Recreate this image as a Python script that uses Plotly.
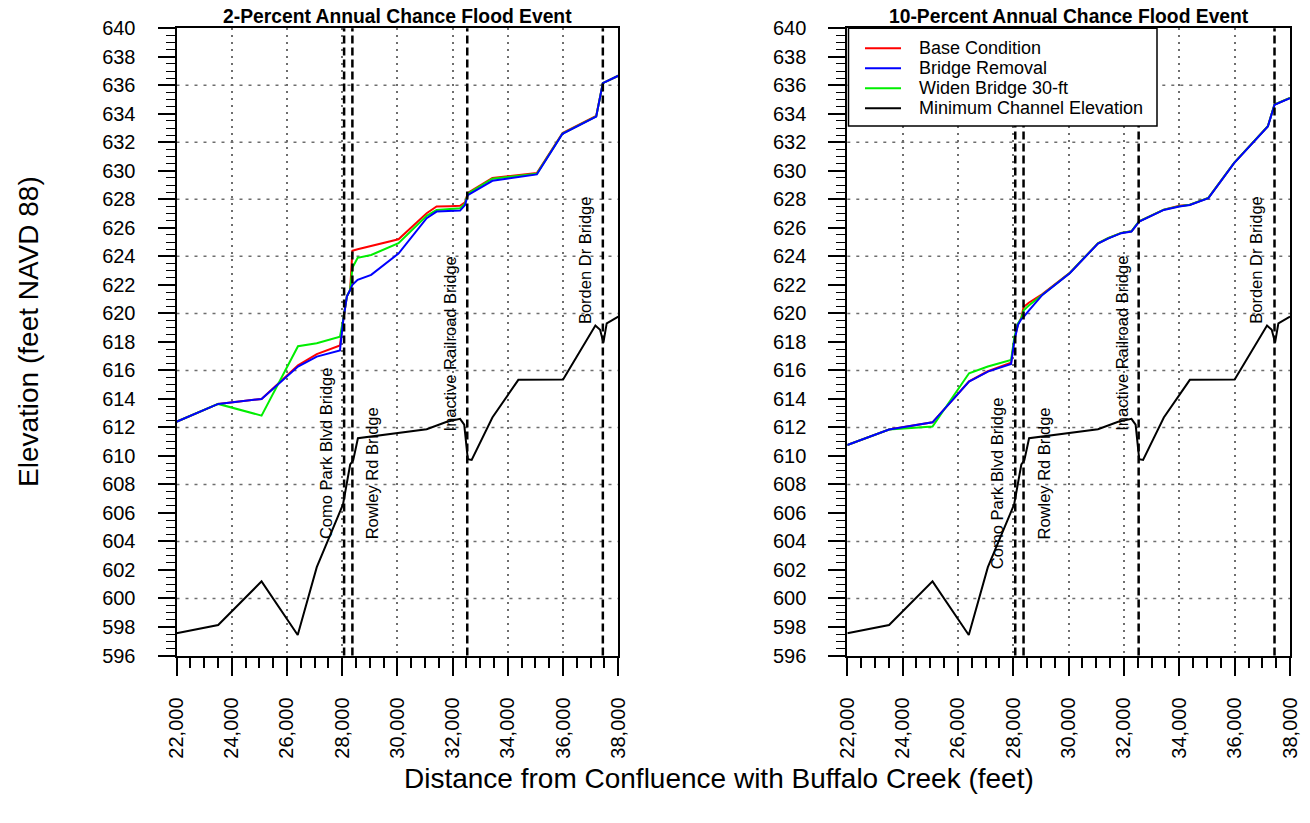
import plotly.graph_objects as go

# Cross-section stations (feet from the confluence) for the water-surface profiles
stations = [22000, 23510, 25080, 26400, 27080, 27920, 28040, 28170, 28290, 28370,
            28560, 29050, 30040, 31060, 31420, 31900, 32270, 32450, 32550, 33440,
            34000, 34380, 35050, 35980, 37200, 37440, 38000]

# 2-percent annual chance water-surface elevations (feet NAVD 88)
base_2pct = [612.40, 613.65, 614.00, 616.35, 617.14, 617.75, 619.55, 621.20, 621.65, 624.40,
             624.50, 624.74, 625.20, 627.03, 627.50, 627.52, 627.55, 627.80, 628.45, 629.50,
             629.62, 629.72, 629.85, 632.65, 633.85, 636.15, 636.67]
removal_2pct = [612.40, 613.65, 614.00, 616.27, 616.97, 617.40, 619.54, 621.18, 621.65, 622.00,
                622.35, 622.70, 624.20, 626.68, 627.14, 627.18, 627.21, 627.60, 628.30, 629.30,
                629.45, 629.55, 629.75, 632.60, 633.80, 636.15, 636.67]
widen_2pct = [612.40, 613.65, 612.83, 617.70, 617.91, 618.37, 619.60, 621.20, 621.65, 623.20,
              623.90, 624.10, 624.93, 626.84, 627.26, 627.32, 627.38, 627.70, 628.40, 629.45,
              629.58, 629.68, 629.80, 632.62, 633.82, 636.15, 636.67]

# 10-percent annual chance water-surface elevations (feet NAVD 88)
base_10pct = [610.77, 611.85, 612.36, 615.23, 615.94, 616.55, 618.20, 619.25, 619.70, 620.45,
              620.75, 621.35, 622.84, 624.92, 625.27, 625.65, 625.76, 626.23, 626.46, 627.28,
              627.55, 627.62, 628.10, 630.56, 633.13, 634.65, 635.12]
removal_10pct = [610.77, 611.85, 612.36, 615.21, 615.92, 616.45, 618.10, 619.20, 619.60, 619.75,
                 620.20, 621.30, 622.82, 624.90, 625.25, 625.63, 625.74, 626.21, 626.44, 627.26,
                 627.50, 627.60, 628.08, 630.54, 633.11, 634.63, 635.10]
widen_10pct = [610.77, 611.85, 612.06, 615.80, 616.27, 616.74, 618.35, 619.30, 619.65, 620.20,
               620.55, 621.32, 622.84, 624.92, 625.27, 625.65, 625.76, 626.23, 626.46, 627.28,
               627.52, 627.62, 628.10, 630.56, 633.13, 634.65, 635.12]

# Minimum channel (thalweg) elevation profile
channel_x = [22000, 23510, 25080, 26390, 27080, 28030, 28290, 28400, 28570, 31060, 31790,
             32270, 32420, 32550, 32690, 33440, 34380, 36000, 37170, 37340, 37460, 37580, 38000]
channel_y = [597.56, 598.14, 601.20, 597.44, 602.20, 606.60, 609.40, 609.70, 611.24, 611.87, 612.40,
             612.60, 612.20, 609.77, 609.72, 612.70, 615.34, 615.36, 619.15, 618.85, 617.95, 619.30, 619.78]

# Bridge crossings
bridge_names = ["Como Park Blvd Bridge", "Rowley Rd Bridge", "Inactive Railroad Bridge", "Borden Dr Bridge"]
bridge_x = [28070, 28370, 32530, 37440]
label_base_2pct = [604.0, 604.0, 611.6, 619.1]
label_base_10pct = [601.9, 604.0, 611.6, 619.1]
label_shift = [-17.5, 20.5, -17.5, -18.5]

# Axis ticks and grid
x_ticks = [22000, 24000, 26000, 28000, 30000, 32000, 34000, 36000, 38000]
x_tick_labels = ["22,000", "24,000", "26,000", "28,000", "30,000", "32,000", "34,000", "36,000", "38,000"]
y_ticks = list(range(596, 641, 2))
y_grid = list(range(600, 637, 4))

panel_titles = ["2-Percent Annual Chance Flood Event", "10-Percent Annual Chance Flood Event"]
series_names = ["Base Condition", "Bridge Removal", "Widen Bridge 30-ft", "Minimum Channel Elevation"]
series_colors = ["#FF0000", "#0000FF", "#00EE00", "#000000"]

W, H = 1310, 823
FONT = "Liberation Sans, Arial, sans-serif"

# pixel layout of the two plotting panels
panel_px = [(176.5, 618.3), (847.3, 1290.0)]
top_px, bottom_px = 28.3, 655.5
y_dom = [(H - bottom_px) / H, (H - top_px) / H]

fig = go.Figure()

profiles = [
    (base_2pct, removal_2pct, widen_2pct),
    (base_10pct, removal_10pct, widen_10pct),
]

for p, (base, removal, widen) in enumerate(profiles):
    xa = "x" if p == 0 else "x2"
    ya = "y" if p == 0 else "y2"
    # drawing order: base, widened, removal, then channel on top
    draw = [(base, 0), (widen, 2), (removal, 1)]
    for vals, idx in draw:
        fig.add_trace(go.Scatter(
            x=stations, y=vals, mode="lines", name=series_names[idx],
            line=dict(color=series_colors[idx], width=2),
            xaxis=xa, yaxis=ya, showlegend=False,
        ))
    fig.add_trace(go.Scatter(
        x=channel_x, y=channel_y, mode="lines", name=series_names[3],
        line=dict(color=series_colors[3], width=2),
        xaxis=xa, yaxis=ya, showlegend=False,
    ))

axis_common = dict(showline=True, mirror=True, linewidth=2, linecolor="black",
                   ticks="outside", tickcolor="black", tickwidth=1.5, zeroline=False,
                   automargin=False,
                   tickfont=dict(size=20, color="black", family=FONT))

for p in range(2):
    sfx = "" if p == 0 else "2"
    x0, x1 = panel_px[p]
    fig.update_layout(**{
        "xaxis" + sfx: dict(
            axis_common, domain=[x0 / W, x1 / W], range=[22000, 38000],
            anchor="y" + sfx, tickmode="array", tickvals=x_ticks, ticktext=x_tick_labels,
            tickangle=-90, ticklen=18, ticklabelstandoff=14,
            showgrid=True, gridcolor="#6e6e6e", gridwidth=1.5, griddash="2px,5px",
            minor=dict(dtick=500, tick0=22000, ticks="outside", ticklen=10,
                       tickcolor="black", tickwidth=1.5, showgrid=False),
        ),
        "yaxis" + sfx: dict(
            axis_common, domain=y_dom, range=[596, 640], anchor="x" + sfx,
            tickmode="array", tickvals=y_ticks, ticklen=17, ticklabelstandoff=18,
            showgrid=False,
            minor=dict(dtick=0.5, tick0=596, ticks="outside", ticklen=9,
                       tickcolor="black", tickwidth=1.2, showgrid=False),
        ),
    })

    xr, yr = "x" + sfx, "y" + sfx
    # horizontal dotted grid
    for g in y_grid:
        fig.add_shape(type="line", xref=xr + " domain", yref=yr, x0=0, x1=1, y0=g, y1=g,
                      line=dict(color="#6e6e6e", width=1.5, dash="3px,6px"), layer="below")
    # bridge locations
    label_base = label_base_2pct if p == 0 else label_base_10pct
    for name, bx, lb, sh in zip(bridge_names, bridge_x, label_base, label_shift):
        fig.add_shape(type="line", xref=xr, yref=yr + " domain", x0=bx, x1=bx, y0=0, y1=1,
                      line=dict(color="black", width=2.5, dash="8px,4px"))
        fig.add_annotation(x=bx, y=lb, xref=xr, yref=yr, text=name, textangle=-90,
                           xanchor="center", yanchor="bottom", xshift=sh, showarrow=False,
                           font=dict(size=16.5, color="black", family=FONT))
    # panel title
    fig.add_annotation(x=(x0 + x1) / 2 / W, y=1 - 16 / H, xref="paper", yref="paper",
                       text="<b>" + panel_titles[p] + "</b>", showarrow=False,
                       xanchor="center", yanchor="middle",
                       font=dict(size=19.3, color="black", family=FONT))

# Legend box in the upper-left corner of the 10-percent panel (x2/y2 domain units)
dx0, dx1 = panel_px[1]
dw = dx1 - dx0
dh = bottom_px - top_px
def to_dom_x(px):
    return (px - dx0) / dw
def to_dom_y(py):
    return (bottom_px - py) / dh

fig.add_shape(type="rect", xref="x2 domain", yref="y2 domain",
              x0=to_dom_x(848.5), x1=to_dom_x(1157), y0=to_dom_y(126), y1=1,
              line=dict(color="black", width=1.5), fillcolor="white", layer="above")
for i, (name, color) in enumerate(zip(series_names, series_colors)):
    row_y = 48.3 + 20 * i
    fig.add_shape(type="line", xref="x2 domain", yref="y2 domain",
                  x0=to_dom_x(865), x1=to_dom_x(901), y0=to_dom_y(row_y), y1=to_dom_y(row_y),
                  line=dict(color=color, width=2), layer="above")
    fig.add_annotation(x=to_dom_x(917), y=to_dom_y(row_y), xref="x2 domain", yref="y2 domain",
                       text=name, showarrow=False, xanchor="left", yanchor="middle",
                       font=dict(size=18, color="black", family=FONT))

fig.add_annotation(x=28 / W, y=1 - 332 / H, xref="paper", yref="paper",
                   text="Elevation (feet NAVD 88)", textangle=-90, showarrow=False,
                   xanchor="center", yanchor="middle",
                   font=dict(size=28, color="black", family=FONT))
fig.add_annotation(x=719 / W, y=1 - 778 / H, xref="paper", yref="paper",
                   text="Distance from Confluence with Buffalo Creek (feet)", showarrow=False,
                   xanchor="center", yanchor="middle",
                   font=dict(size=28, color="black", family=FONT))

fig.update_layout(
    width=W, height=H, margin=dict(l=0, r=0, t=0, b=0, autoexpand=False),
    paper_bgcolor="white", plot_bgcolor="white",
    font=dict(family=FONT, color="black"),
    showlegend=False,
)

fig.write_html("out.html")
